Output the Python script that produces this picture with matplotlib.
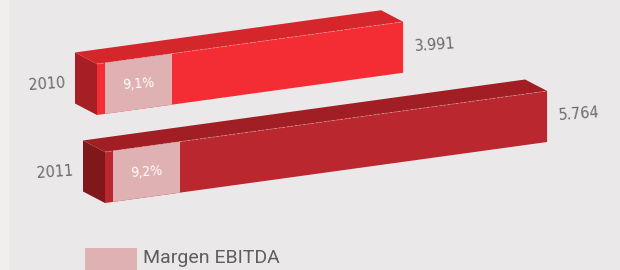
import numpy as np
import matplotlib
matplotlib.use("Agg")
import matplotlib.pyplot as plt
from matplotlib.patches import Polygon, Rectangle
from matplotlib.transforms import Affine2D

# -----------------------------
# Data
# -----------------------------
years = ["2010", "2011"]
ventas = [3991, 5764]
margen = [9.1, 9.2]
legend_label = "Margen EBITDA"

# -----------------------------
# Style
# -----------------------------
bg = "#eae8e9"
front_cols = ["#f42d34", "#bb272e"]
top_cols = ["#d5262c", "#a11f24"]
side_cols = ["#a51f24", "#7f171b"]
pink = "#e0b1b3"
txt = "#6b6b6b"

px_per_unit = 0.0767      # bar length in px per unit
slope = 0.138             # perspective shear of the bars
h = 51                    # front face height
depth = np.array([-22, -11.5])
bases = [(97, 115), (105, 203)]   # front bottom-left corner of each bar
pink_u = (8, 75)

plt.rcParams['font.family'] = ['Roboto', 'DejaVu Sans']

fig = plt.figure(figsize=(6.2, 2.7), dpi=100)
fig.patch.set_facecolor(bg)
ax = fig.add_axes([0, 0, 1, 1])
ax.set_xlim(0, 620)
ax.set_ylim(270, 0)
ax.axis("off")
ax.add_patch(Rectangle((0, 0), 8, 270, color="#f0efee", zorder=0))

lab = dict(family=['DejaVu Sans'], stretch='condensed')

for i, (yr, val, m) in enumerate(zip(years, ventas, margen)):
    x0, y0 = bases[i]
    # bar space: u = px along bar, v = 0..1 up the front face
    bar_tf = Affine2D(np.array([[1, 0, x0], [-slope, -h, y0], [0, 0, 1]]))
    L = val * px_per_unit

    f0b, f0t, f1t, f1b = bar_tf.transform([(0, 0), (0, 1), (L, 1), (L, 0)])
    ax.add_patch(Polygon([f0b, f0t, f0t + depth, f0b + depth],
                         closed=True, color=side_cols[i], lw=0, zorder=2))
    ax.add_patch(Polygon([f0t, f1t, f1t + depth, f0t + depth],
                         closed=True, color=top_cols[i], lw=0, zorder=2))
    ax.add_patch(Polygon([(0, 0), (L, 0), (L, 1), (0, 1)], closed=True,
                         color=front_cols[i], lw=0, zorder=3,
                         transform=bar_tf + ax.transData))
    ax.plot([0, L], [1, 1], color="white", alpha=0.35, lw=0.6,
            ls=(0, (3, 2)), transform=bar_tf + ax.transData, zorder=4)
    ax.add_patch(Polygon([(pink_u[0], 0), (pink_u[1], 0), (pink_u[1], 1), (pink_u[0], 1)],
                         closed=True, color=pink, lw=0, zorder=4,
                         transform=bar_tf + ax.transData))

    cx, cy = bar_tf.transform([(sum(pink_u) / 2, 0.5)])[0]
    ax.text(cx, cy, f"{m:.1f}%".replace(".", ","), color="white", fontsize=10,
            ha="center", va="center", rotation=4, zorder=5, **lab)

    ax.text(x0 - 50, y0 - 31, yr, color=txt, fontsize=11.5,
            ha="center", va="center", rotation=4, **lab)
    ax.text(f1b[0] + 11, f1b[1] - 28, f"{val:,}".replace(",", "."), color=txt,
            fontsize=11.5, ha="left", va="center", rotation=4, **lab)

# legend
ax.add_patch(Rectangle((85, 248), 52, 30, color=pink, lw=0))
ax.text(143, 258, legend_label, color="#5e5e5e", fontsize=14, ha="left", va="center")

fig.savefig("out.png", dpi=100, facecolor=bg)
